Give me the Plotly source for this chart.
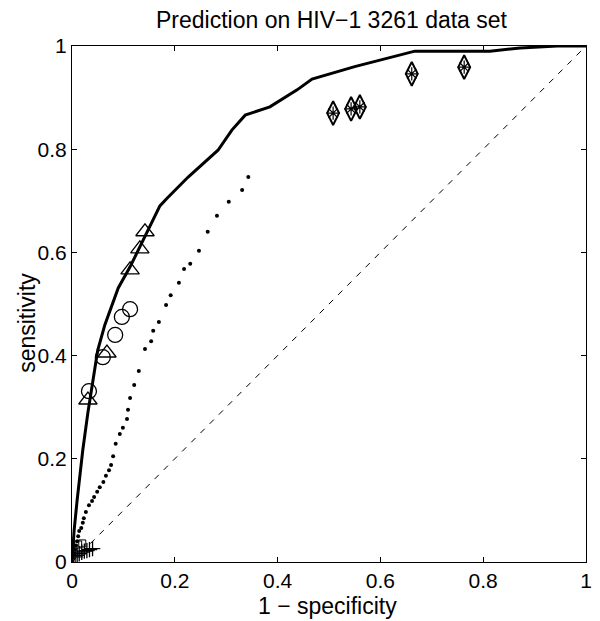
import plotly.graph_objects as go

# ROC curve (solid)
roc_fpr = [0, 0.004, 0.010, 0.021, 0.031, 0.040, 0.050, 0.064, 0.078, 0.090, 0.113, 0.132,
           0.152, 0.171, 0.185, 0.226, 0.284, 0.311, 0.337, 0.385, 0.438, 0.467, 0.550,
           0.644, 0.667, 0.813, 0.872, 0.944, 1.0]
roc_tpr = [0, 0.060, 0.120, 0.217, 0.290, 0.350, 0.410, 0.460, 0.500, 0.531, 0.572, 0.610,
           0.650, 0.690, 0.705, 0.746, 0.798, 0.837, 0.866, 0.882, 0.915, 0.936, 0.960,
           0.983, 0.990, 0.990, 0.996, 1.0, 1.0]

# dotted curve
dot_fpr = [0.0, 0.002, 0.004, 0.006, 0.008, 0.010, 0.012, 0.014, 0.018, 0.021, 0.023, 0.027,
           0.033, 0.039, 0.043, 0.049, 0.054, 0.061, 0.066, 0.072, 0.076, 0.080, 0.085,
           0.093, 0.099, 0.107, 0.109, 0.113, 0.121, 0.130, 0.142, 0.154, 0.158, 0.169,
           0.183, 0.192, 0.208, 0.218, 0.230, 0.247, 0.264, 0.282, 0.305, 0.331, 0.343]
dot_tpr = [0.0, 0.008, 0.016, 0.024, 0.032, 0.040, 0.050, 0.060, 0.066, 0.076, 0.085, 0.097,
           0.110, 0.118, 0.126, 0.136, 0.145, 0.155, 0.167, 0.178, 0.188, 0.205, 0.229,
           0.248, 0.260, 0.277, 0.295, 0.318, 0.343, 0.370, 0.413, 0.428, 0.448, 0.465,
           0.498, 0.517, 0.541, 0.568, 0.578, 0.603, 0.640, 0.671, 0.698, 0.721, 0.746]

tri_fpr = [0.031, 0.068, 0.113, 0.132, 0.142]
tri_tpr = [0.314, 0.405, 0.566, 0.607, 0.640]

circ_fpr = [0.033, 0.060, 0.084, 0.097, 0.113]
circ_tpr = [0.331, 0.397, 0.440, 0.475, 0.490]

dia_fpr = [0.508, 0.543, 0.560, 0.661, 0.763]
dia_tpr = [0.870, 0.878, 0.882, 0.946, 0.959]

plus_fpr = [0.006, 0.010, 0.014, 0.019, 0.024, 0.029, 0.034, 0.040]
plus_tpr = [0.010, 0.013, 0.016, 0.019, 0.021, 0.022, 0.024, 0.026]

sq_fpr = [0.012, 0.020]
sq_tpr = [0.034, 0.036]

diag = [0, 1]

tick_vals = [0, 0.2, 0.4, 0.6, 0.8, 1]
tick_text = ["0", "0.2", "0.4", "0.6", "0.8", "1"]

title_text = "Prediction on HIV\u22121 3261 data set"
xlabel_text = "1 \u2212 specificity"
ylabel_text = "sensitivity"

fig = go.Figure()
fig.add_trace(go.Scatter(x=diag, y=diag, mode="lines",
                         line=dict(color="black", width=1, dash="6px,7px")))
fig.add_trace(go.Scatter(x=roc_fpr, y=roc_tpr, mode="lines",
                         line=dict(color="black", width=3)))
fig.add_trace(go.Scatter(x=dot_fpr, y=dot_tpr, mode="markers",
                         marker=dict(color="black", size=4)))
fig.add_trace(go.Scatter(x=tri_fpr, y=tri_tpr, mode="markers",
                         marker=dict(symbol="triangle-up-open", color="black", size=16,
                                     line=dict(width=1.3))))
fig.add_trace(go.Scatter(x=circ_fpr, y=circ_tpr, mode="markers",
                         marker=dict(symbol="circle-open", color="black", size=15,
                                     line=dict(width=1.3))))
fig.add_trace(go.Scatter(x=dia_fpr, y=dia_tpr, mode="markers",
                         marker=dict(symbol="diamond-tall-open", color="black", size=17,
                                     line=dict(width=2))))
fig.add_trace(go.Scatter(x=dia_fpr, y=dia_tpr, mode="markers",
                         marker=dict(symbol="asterisk-open", color="black", size=11,
                                     line=dict(width=1.2))))
fig.add_trace(go.Scatter(x=plus_fpr, y=plus_tpr, mode="markers",
                         marker=dict(symbol="cross-thin-open", color="black", size=11,
                                     line=dict(width=1.3))))
fig.add_trace(go.Scatter(x=sq_fpr, y=sq_tpr, mode="markers",
                         marker=dict(symbol="square-open", color="black", size=7,
                                     line=dict(width=1))))

axis_common = dict(range=[0, 1], tickvals=tick_vals, ticktext=tick_text,
                   showgrid=False, zeroline=False, showline=True, mirror="ticks",
                   linecolor="black", linewidth=1, ticks="inside", ticklen=5,
                   tickcolor="black", tickfont=dict(size=21, color="black"),
                   automargin=False)

# the page body adds an 8px offset, so the figure is 8px smaller on each axis
fig.update_layout(
    width=592, height=613,
    margin=dict(l=64, r=14, t=38, b=59),
    plot_bgcolor="white", paper_bgcolor="white",
    showlegend=False,
    font=dict(family="Liberation Sans, Arial, sans-serif", color="black"),
    xaxis=axis_common,
    yaxis=axis_common,
    annotations=[
        dict(text=title_text, xref="paper", yref="paper", x=0.506, y=1.050,
             xanchor="center", yanchor="middle", showarrow=False,
             font=dict(size=23, color="black")),
        dict(text=xlabel_text, xref="paper", yref="paper", x=0.498, y=-0.086,
             xanchor="center", yanchor="middle", showarrow=False,
             font=dict(size=23, color="black")),
        dict(text=ylabel_text, xref="paper", yref="paper", x=-0.088, y=0.463,
             xanchor="center", yanchor="middle", showarrow=False, textangle=-90,
             font=dict(size=23, color="black")),
    ],
)

fig.write_html("out.html")
